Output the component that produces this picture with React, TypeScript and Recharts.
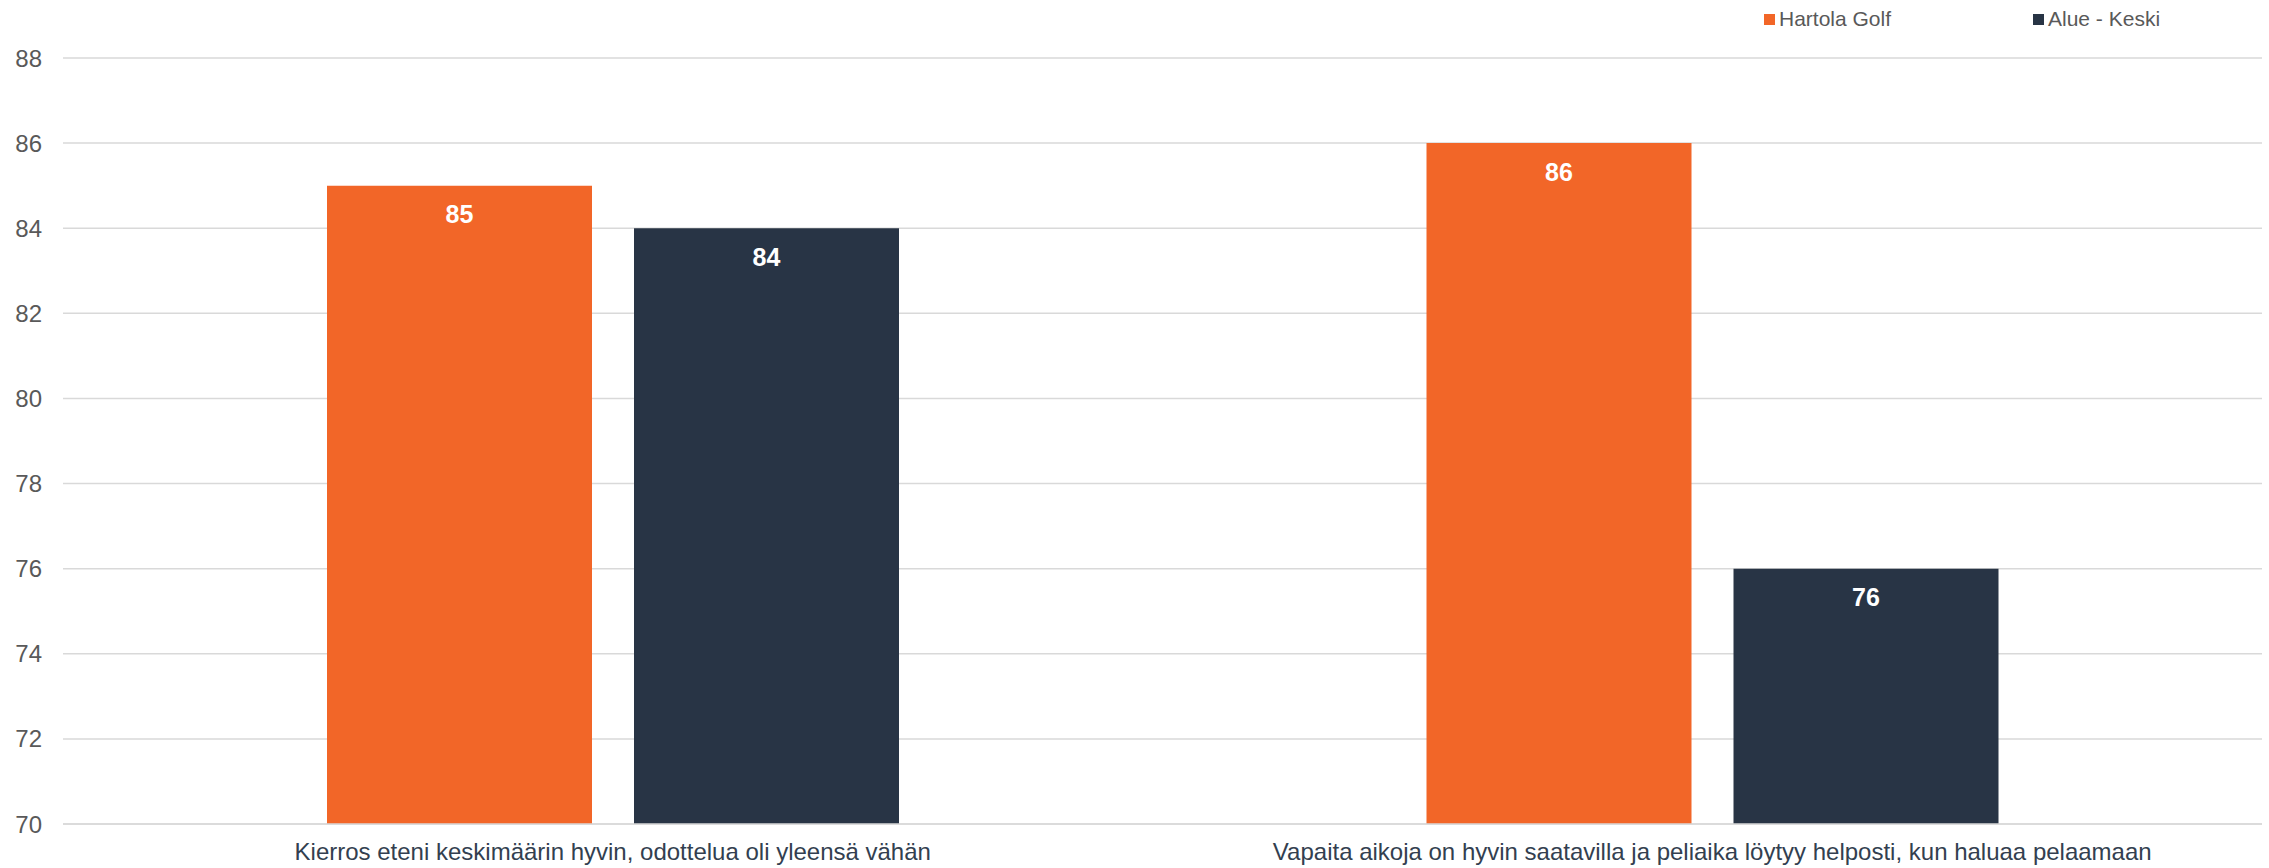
import { BarChart, Bar, XAxis, YAxis, CartesianGrid, LabelList } from "recharts";

// Categories and values
const categories = [
  "Kierros eteni keskimäärin hyvin, odottelua oli yleensä vähän",
  "Vapaita aikoja on hyvin saatavilla ja peliaika löytyy helposti, kun haluaa pelaamaan",
];
const hartolaGolf = [85, 86];
const alueKeski = [84, 76];
const yTicks = [70, 72, 74, 76, 78, 80, 82, 84, 86, 88];

const seriesNames = ["Hartola Golf", "Alue - Keski"];
const ORANGE = "#F26628";
const NAVY = "#283445";
const FONT = "'Liberation Sans', Arial, sans-serif";

const data = categories.map((name, i) => ({
  name,
  hartola: hartolaGolf[i],
  alue: alueKeski[i],
}));

const LegendItem = ({ color, label, left }: { color: string; label: string; left: number }) => (
  <div style={{ position: "absolute", left, top: 7, display: "flex", alignItems: "center" }}>
    <span style={{ width: 11, height: 11, background: color, display: "inline-block", marginRight: 4 }} />
    <span style={{ fontSize: 21, color: "#595959", fontFamily: FONT, lineHeight: "24px" }}>{label}</span>
  </div>
);

export default function App() {
  return (
    <div style={{ position: "absolute", left: 0, top: 0, width: 2269, height: 868, background: "#fff" }}>
      <LegendItem color={ORANGE} label={seriesNames[0]} left={1764} />
      <LegendItem color={NAVY} label={seriesNames[1]} left={2033} />
      <BarChart
        width={2269}
        height={868}
        data={data}
        margin={{ top: 58, right: 7, bottom: 0, left: 0 }}
        barGap={42}
        barCategoryGap={264}
      >
        <CartesianGrid vertical={false} stroke="#d9d9d9" strokeWidth={1.5} />
        <XAxis
          dataKey="name"
          height={44}
          tickLine={false}
          tickSize={0}
          tickMargin={19}
          axisLine={{ stroke: "#d9d9d9", strokeWidth: 1.5 }}
          tick={{ fontSize: 24, fill: "#333F50", fontFamily: FONT }}
          interval={0}
        />
        <YAxis
          width={63}
          domain={[70, 88]}
          ticks={yTicks}
          allowDataOverflow
          axisLine={false}
          tickLine={false}
          tickSize={0}
          tickMargin={21}
          tick={{ fontSize: 24, fill: "#595959", fontFamily: FONT }}
        />
        <Bar dataKey="hartola" name={seriesNames[0]} fill={ORANGE} isAnimationActive={false}>
          <LabelList
            dataKey="hartola"
            position="insideTop"
            offset={20}
            fill="#fff"
            style={{ fontSize: 25, fontWeight: "bold", fontFamily: FONT }}
          />
        </Bar>
        <Bar dataKey="alue" name={seriesNames[1]} fill={NAVY} isAnimationActive={false}>
          <LabelList
            dataKey="alue"
            position="insideTop"
            offset={20}
            fill="#fff"
            style={{ fontSize: 25, fontWeight: "bold", fontFamily: FONT }}
          />
        </Bar>
      </BarChart>
    </div>
  );
}
